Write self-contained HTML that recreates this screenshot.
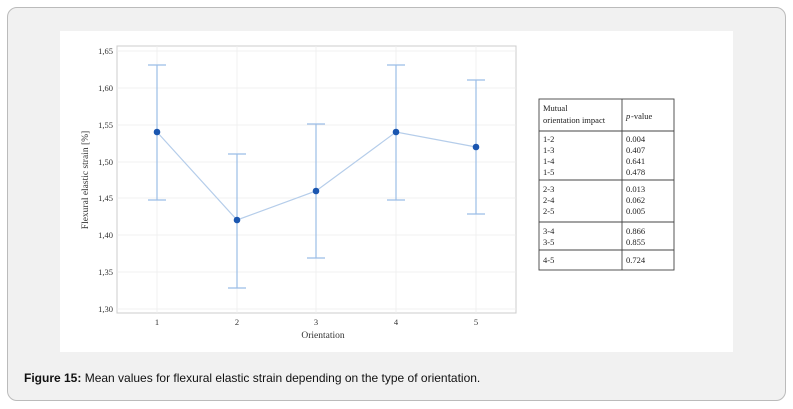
<!DOCTYPE html><html><head><style>
body{margin:0;width:793px;height:409px;background:#fff;font-family:"Liberation Sans",sans-serif;position:relative;overflow:hidden}
.card{position:absolute;left:7px;top:7px;width:777px;height:392px;border:1px solid #bbb;border-radius:10px;background:#f1f1f1}
.fig{position:absolute;left:60px;top:31px;width:673px;height:321px;background:#fff}
.cap{position:absolute;left:24px;top:371px;font-size:12px;color:#111}
</style></head><body>
<div class="card"></div>
<div class="fig"></div>
<div class="cap"><b>Figure 15:</b> Mean values for flexural elastic strain depending on the type of orientation.</div>
<svg style="position:absolute;left:0;top:0" width="793" height="409" font-family="Liberation Serif,serif" font-size="8.5" fill="#333">
<rect x="117" y="46" width="399" height="267" fill="none" stroke="#ccc"/>
<g stroke="#eee" stroke-width="0.8">
<line x1="117" x2="516" y1="51" y2="51"/><line x1="117" x2="516" y1="88" y2="88"/><line x1="117" x2="516" y1="125" y2="125"/><line x1="117" x2="516" y1="162" y2="162"/><line x1="117" x2="516" y1="198" y2="198"/><line x1="117" x2="516" y1="235" y2="235"/><line x1="117" x2="516" y1="272" y2="272"/><line x1="117" x2="516" y1="309" y2="309"/>
<line y1="46" y2="313" x1="157" x2="157"/><line y1="46" y2="313" x1="237" x2="237"/><line y1="46" y2="313" x1="316" x2="316"/><line y1="46" y2="313" x1="396" x2="396"/><line y1="46" y2="313" x1="476" x2="476"/>
</g>
<g text-anchor="end"><text x="113" y="54">1,65</text><text x="113" y="91">1,60</text><text x="113" y="128">1,55</text><text x="113" y="165">1,50</text><text x="113" y="201">1,45</text><text x="113" y="238">1,40</text><text x="113" y="275">1,35</text><text x="113" y="312">1,30</text></g>
<g text-anchor="middle"><text x="157" y="325">1</text><text x="237" y="325">2</text><text x="316" y="325">3</text><text x="396" y="325">4</text><text x="476" y="325">5</text>
<text x="323" y="338" font-size="9.5">Orientation</text>
<text transform="translate(88,180) rotate(-90)" font-size="9.5">Flexural elastic strain [%]</text></g>
<g stroke="#9bbde6" stroke-width="1.2" fill="none">
<path d="M157 65V200M148 65H166M148 200H166"/>
<path d="M237 154V288M228 154H246M228 288H246"/>
<path d="M316 124V258M307 124H325M307 258H325"/>
<path d="M396 65V200M387 65H405M387 200H405"/>
<path d="M476 80V214M467 80H485M467 214H485"/>
<polyline stroke="#b5cdea" points="157,132 237,220 316,191 396,132 476,147"/>
</g>
<g fill="#1a56b0"><circle cx="157" cy="132" r="3.3"/><circle cx="237" cy="220" r="3.3"/><circle cx="316" cy="191" r="3.3"/><circle cx="396" cy="132" r="3.3"/><circle cx="476" cy="147" r="3.3"/></g>
<g stroke="#444" fill="none" stroke-width="0.9"><rect x="539" y="99" width="135" height="171"/><line x1="622" x2="622" y1="99" y2="270"/>
<line x1="539" x2="674" y1="131" y2="131"/><line x1="539" x2="674" y1="180" y2="180"/><line x1="539" x2="674" y1="222" y2="222"/><line x1="539" x2="674" y1="250" y2="250"/></g>
<g font-size="8.5" fill="#222"><text x="543" y="111">Mutual</text><text x="543" y="123">orientation impact</text><text x="626" y="119" font-style="italic">p</text><text x="631" y="119">-value</text>
<text x="543" y="142">1-2</text><text x="543" y="153">1-3</text><text x="543" y="164">1-4</text><text x="543" y="175">1-5</text>
<text x="626" y="142">0.004</text><text x="626" y="153">0.407</text><text x="626" y="164">0.641</text><text x="626" y="175">0.478</text>
<text x="543" y="192">2-3</text><text x="543" y="203">2-4</text><text x="543" y="214">2-5</text>
<text x="626" y="192">0.013</text><text x="626" y="203">0.062</text><text x="626" y="214">0.005</text>
<text x="543" y="234">3-4</text><text x="543" y="245">3-5</text><text x="626" y="234">0.866</text><text x="626" y="245">0.855</text>
<text x="543" y="263">4-5</text><text x="626" y="263">0.724</text></g>
</svg>
</body></html>
